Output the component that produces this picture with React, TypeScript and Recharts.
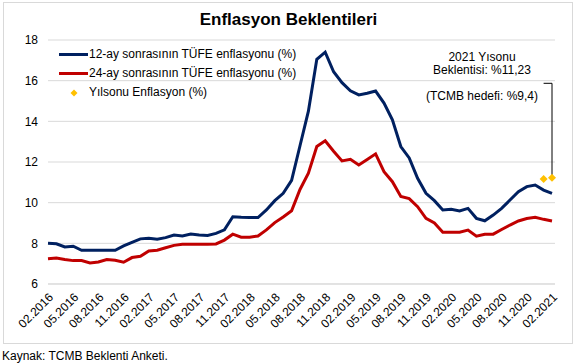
import React from "react";
import { LineChart, Line, XAxis, YAxis, CartesianGrid, ReferenceLine } from "recharts";

const months = [
  "02.2016","03.2016","04.2016","05.2016","06.2016","07.2016","08.2016","09.2016","10.2016","11.2016","12.2016",
  "01.2017","02.2017","03.2017","04.2017","05.2017","06.2017","07.2017","08.2017","09.2017","10.2017","11.2017","12.2017",
  "01.2018","02.2018","03.2018","04.2018","05.2018","06.2018","07.2018","08.2018","09.2018","10.2018","11.2018","12.2018",
  "01.2019","02.2019","03.2019","04.2019","05.2019","06.2019","07.2019","08.2019","09.2019","10.2019","11.2019","12.2019",
  "01.2020","02.2020","03.2020","04.2020","05.2020","06.2020","07.2020","08.2020","09.2020","10.2020","11.2020","12.2020",
  "01.2021","02.2021",
];

const exp12 = [
  8.0, 7.98, 7.82, 7.86, 7.66, 7.66, 7.66, 7.66, 7.66, 7.87, 8.05,
  8.22, 8.25, 8.2, 8.28, 8.41, 8.36, 8.46, 8.41, 8.39, 8.49, 8.66, 9.31,
  9.28, 9.27, 9.27, 9.64, 10.1, 10.46, 11.1, 12.8, 14.5, 17.05, 17.4, 16.44,
  15.9, 15.5, 15.3, 15.38, 15.49, 14.9, 14.07, 12.76, 12.2, 11.2, 10.46, 10.1,
  9.64, 9.67, 9.59, 9.72, 9.23, 9.11, 9.39, 9.72, 10.13, 10.54, 10.79, 10.87,
  10.62, 10.46,
];

const exp24 = [
  7.24, 7.28, 7.21, 7.15, 7.15, 7.03, 7.08, 7.2, 7.17, 7.07, 7.3,
  7.36, 7.62, 7.66, 7.78, 7.9, 7.95, 7.96, 7.96, 7.96, 7.97, 8.16, 8.45,
  8.3, 8.3, 8.36, 8.66, 9.02, 9.3, 9.6, 10.65, 11.45, 12.76, 13.04, 12.53,
  12.05, 12.13, 11.85, 12.12, 12.4, 11.52, 11.03, 10.3, 10.2, 9.8, 9.23, 9.0,
  8.55, 8.55, 8.55, 8.65, 8.35, 8.45, 8.45, 8.68, 8.9, 9.1, 9.22, 9.28,
  9.18, 9.1,
];

const yearEndMonths = ["01.2021", "02.2021"];
const yearEndValues = [11.17, 11.23];

const yTicks = [6, 8, 10, 12, 14, 16, 18];
const annotationTopY = 15.87;

const seriesNames = [
  "12-ay sonrasının TÜFE enflasyonu (%)",
  "24-ay sonrasının TÜFE enflasyonu (%)",
  "Yılsonu Enflasyon (%)",
];

const data = months.map((m, i) => {
  const k = yearEndMonths.indexOf(m);
  return { month: m, e12: exp12[i], e24: exp24[i], ye: k >= 0 ? yearEndValues[k] : null };
});

const FONT = "'Liberation Sans', Arial, sans-serif";
const BLUE = "#002060";
const RED = "#C00000";
const GOLD = "#FFC000";

const Diamond = (props: any) => {
  const { cx, cy, payload } = props;
  if (cx == null || cy == null || payload == null || payload.ye == null) return null;
  const r = 4;
  return (
    <polygon
      key={`d-${cx}`}
      points={`${cx},${cy - r} ${cx + r},${cy} ${cx},${cy + r} ${cx - r},${cy}`}
      fill={GOLD}
      stroke="none"
    />
  );
};

export default function App() {
  return (
    <div style={{ position: "absolute", left: 0, top: 0, width: 577, height: 364, background: "#fff", fontFamily: FONT, color: "#000" }}>
      <div style={{ position: "absolute", left: 3, top: 2, width: 568, height: 340, border: "1px solid #d9d9d9" }} />
      <div style={{ position: "absolute", left: 0, top: 9, width: 577, textAlign: "center", fontWeight: "bold", fontSize: 17, lineHeight: "22px" }}>
        Enflasyon Beklentileri
      </div>
      <div style={{ position: "absolute", left: 0, top: 0 }}>
        <LineChart width={577} height={345} data={data} margin={{ top: 40, right: 22, left: 0, bottom: 0 }}>
          <CartesianGrid vertical={false} stroke="#d9d9d9" />
          <XAxis
            dataKey="month"
            interval={2}
            angle={-45}
            textAnchor="end"
            tickLine={false}
            axisLine={{ stroke: "#d9d9d9" }}
            height={61}
            padding={{ left: 0, right: 3 }}
            tick={{ fontSize: 12, fill: "#000", fontFamily: FONT }}
          />
          <YAxis
            domain={[6, 18]}
            ticks={yTicks}
            width={48}
            tickLine={false}
            axisLine={false}
            tickMargin={4}
            tick={{ fontSize: 12, fill: "#000", fontFamily: FONT }}
          />
          <ReferenceLine
            segment={[{ x: "02.2021", y: yearEndValues[1] }, { x: "02.2021", y: annotationTopY }]}
            stroke="#000"
            strokeWidth={1}
          />
          <ReferenceLine
            segment={[{ x: "01.2021", y: annotationTopY }, { x: "02.2021", y: annotationTopY }]}
            stroke="#000"
            strokeWidth={1}
          />
          <Line dataKey="e24" stroke={RED} strokeWidth={3} dot={false} isAnimationActive={false} />
          <Line dataKey="e12" stroke={BLUE} strokeWidth={3} dot={false} isAnimationActive={false} />
          <Line dataKey="ye" stroke="none" strokeWidth={0} dot={<Diamond />} activeDot={false} isAnimationActive={false} />
        </LineChart>
      </div>
      {/* legend */}
      <div style={{ position: "absolute", left: 59, top: 45, fontSize: 12, lineHeight: "19px" }}>
        <div style={{ display: "flex", alignItems: "center", height: 19 }}>
          <div style={{ width: 29, height: 3, background: BLUE, marginRight: 1 }} />
          <span>{seriesNames[0]}</span>
        </div>
        <div style={{ display: "flex", alignItems: "center", height: 19 }}>
          <div style={{ width: 29, height: 3, background: RED, marginRight: 1 }} />
          <span>{seriesNames[1]}</span>
        </div>
        <div style={{ display: "flex", alignItems: "center", height: 19 }}>
          <div style={{ width: 30, display: "flex", justifyContent: "center" }}>
            <svg width={8} height={8}><polygon points="4,0.5 7.5,4 4,7.5 0.5,4" fill={GOLD} /></svg>
          </div>
          <span>{seriesNames[2]}</span>
        </div>
      </div>
      {/* annotation */}
      <div style={{ position: "absolute", left: 402, top: 51, width: 160, textAlign: "center", fontSize: 12, lineHeight: "13px" }}>
        <div>2021 Yısonu</div>
        <div>Beklentisi: %11,23</div>
      </div>
      <div style={{ position: "absolute", left: 402, top: 89, width: 160, textAlign: "center", fontSize: 12, lineHeight: "14px" }}>
        (TCMB hedefi: %9,4)
      </div>
      <div style={{ position: "absolute", left: 2, top: 349, fontSize: 12, lineHeight: "14px" }}>
        Kaynak: TCMB Beklenti Anketi.
      </div>
    </div>
  );
}
